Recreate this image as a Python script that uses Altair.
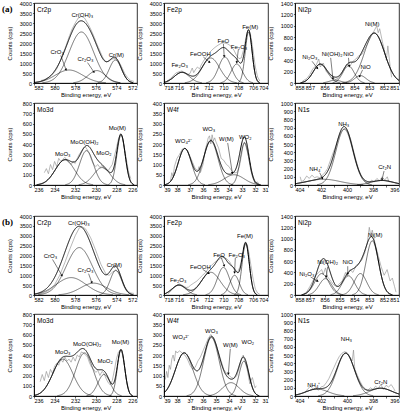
import math

import altair as alt
import pandas as pd

# ---------------- axis ticks ----------------
CR_X_TICKS = [582, 580, 578, 576, 574, 572]
FE_X_TICKS = [718, 716, 714, 712, 710, 708, 706, 704]
NI_X_TICKS = [858, 857, 856, 855, 854, 853, 852, 851]
MO_X_TICKS = [236, 234, 232, 230, 228, 226]
W_X_TICKS = [39, 38, 37, 36, 35, 34, 33, 32, 31]
N_X_TICKS = [404, 403, 402, 401, 400, 399, 398, 397, 396]

CR_Y_TICKS = [0, 500, 1000, 1500, 2000, 2500, 3000, 3500, 4000]
FE_Y_TICKS = [0, 500, 1000, 1500, 2000, 2500, 3000, 3500, 4000]
NI_Y_TICKS = [0, 200, 400, 600, 800, 1000, 1200, 1400]
MO_Y_TICKS = [0, 100, 200, 300, 400, 500, 600, 700, 800]
W_Y_TICKS = [0, 50, 100, 150, 200, 250, 300, 350, 400]
N_Y_TICKS = [0, 100, 200, 300, 400, 500, 600, 700, 800, 900, 1000]

# ---------------- (a) Cr 2p ----------------
A_CR_CENTER = [577.4, 578.6, 575.9, 574.1]
A_CR_HEIGHT = [2550, 650, 620, 1150]
A_CR_FWHM = [2.8, 3.1, 2.0, 1.4]
A_CR_RAW_X = [581.3, 581.0, 580.7, 580.4, 580.1, 579.8, 579.5, 579.2, 578.9, 578.6, 578.3, 578.0,
              577.7, 577.4, 577.1, 576.8, 576.5, 576.2, 575.9, 575.6, 575.3, 575.0, 574.7, 574.4,
              574.1, 573.8, 573.5, 573.2, 572.9, 572.6, 572.3]
A_CR_RAW_Y = [130, 160, 250, 330, 480, 700, 1050, 1450, 1850, 2300, 2700, 3000,
              3250, 3330, 3250, 3000, 2700, 2350, 1950, 1600, 1250, 1050, 1100, 1200,
              1230, 1100, 820, 480, 260, 120, 80]
A_CR_TEXT = ["Cr(OH)₃", "CrO₃", "Cr₂O₃", "Cr(M)"]
A_CR_TEXT_X = [577.3, 579.75, 577.0, 574.0]
A_CR_TEXT_Y = [3420, 1570, 1190, 1420]
A_CR_ARROW = [(579.4, 1380, 578.9, 680), (576.8, 1020, 576.2, 560)]

# ---------------- (a) Fe 2p ----------------
A_FE_CENTER = [715.6, 711.7, 709.8, 708.2, 706.6]
A_FE_HEIGHT = [530, 1250, 1300, 950, 2550]
A_FE_FWHM = [2.4, 2.8, 2.0, 1.8, 1.1]
A_FE_RAW_X = [717.6, 717.2, 716.8, 716.4, 716.0, 715.6, 715.2, 714.8, 714.5, 714.2, 714.0, 713.8,
              713.5, 713.2, 713.0, 712.6, 712.2, 711.8, 711.4, 711.0, 710.6, 710.2, 709.8, 709.4,
              709.0, 708.6, 708.2, 707.9, 707.6, 707.3, 707.0, 706.8, 706.6, 706.4, 706.2, 706.0,
              705.7, 705.4, 705.1]
A_FE_RAW_Y = [100, 200, 350, 500, 560, 600, 520, 420, 480, 750, 520, 650,
              800, 700, 900, 1150, 1350, 1550, 1700, 1820, 1920, 2000, 2000, 1950,
              1850, 1650, 1350, 1220, 1250, 1650, 2200, 2550, 2680, 2500, 2100, 1600,
              800, 300, 100]
A_FE_TEXT = ["Fe₂O₃", "FeOOH", "FeO", "Fe₂O₃", "Fe(M)"]
A_FE_TEXT_X = [715.9, 713.1, 710.0, 707.9, 706.4]
A_FE_TEXT_Y = [880, 1450, 2100, 1800, 2800]
A_FE_ARROW = [(712.7, 1300, 711.9, 1050), (710.0, 1950, 709.9, 1350), (708.0, 1650, 708.2, 1050)]

# ---------------- (a) Ni 2p ----------------
A_NI_CENTER = [856.3, 855.3, 854.4, 853.6, 852.65]
A_NI_HEIGHT = [330, 50, 300, 130, 870]
A_NI_FWHM = [1.1, 0.9, 0.9, 0.9, 1.6]
A_NI_RAW_X = [857.5, 857.2, 857.0, 856.8, 856.6, 856.4, 856.3, 856.1, 855.9, 855.7, 855.5, 855.3,
              855.1, 854.9, 854.7, 854.5, 854.3, 854.1, 853.9, 853.7, 853.5, 853.3, 853.1, 852.9,
              852.7, 852.5, 852.4, 852.3, 852.1, 852.0, 851.85, 851.75, 851.6, 851.5]
A_NI_RAW_Y = [30, 80, 150, 250, 300, 420, 280, 350, 200, 150, 120, 60,
              80, 150, 250, 330, 300, 380, 420, 480, 500, 600, 700, 820,
              900, 1000, 880, 950, 700, 600, 400, 650, 300, 100]
A_NI_TEXT = ["Ni₂O₃", "Ni(OH)₂", "NiO", "NiO", "Ni(M)"]
A_NI_TEXT_X = [857.0, 855.5, 854.4, 853.25, 852.8]
A_NI_TEXT_Y = [450, 510, 510, 280, 1040]
A_NI_ARROW = [(856.85, 380, 856.5, 260), (855.6, 440, 855.45, 80), (854.4, 440, 854.35, 300),
              (853.45, 230, 853.65, 120)]

# ---------------- (a) Mo 3d ----------------
A_MO_CENTER = [233.0, 230.9, 229.4, 227.55]
A_MO_HEIGHT = [245, 335, 170, 485]
A_MO_FWHM = [2.2, 1.6, 1.9, 0.95]
A_MO_RAW_X = [235.0, 234.8, 234.6, 234.4, 234.2, 234.0, 233.8, 233.6, 233.4, 233.2, 233.0, 232.8,
              232.6, 232.4, 232.2, 232.0, 231.8, 231.6, 231.4, 231.2, 231.0, 230.8, 230.6, 230.4,
              230.2, 230.0, 229.8, 229.6, 229.4, 229.2, 229.0, 228.8, 228.6, 228.4, 228.2, 228.0,
              227.8, 227.6, 227.4, 227.2, 227.0, 226.8, 226.6]
A_MO_RAW_Y = [120, 160, 110, 200, 150, 230, 180, 260, 230, 250, 270, 240,
              220, 200, 230, 210, 260, 300, 330, 360, 370, 340, 300, 240,
              200, 180, 200, 170, 190, 160, 150, 140, 170, 200, 280, 360,
              450, 500, 460, 350, 230, 120, 60]
A_MO_TEXT = ["MoO₃", "MoO(OH)₂", "MoO₂", "Mo(M)"]
A_MO_TEXT_X = [233.2, 231.1, 229.2, 227.9]
A_MO_TEXT_Y = [300, 415, 310, 555]
A_MO_ARROW = []

# ---------------- (a) W 4f ----------------
A_W_CENTER = [37.4, 35.4, 33.6, 32.8]
A_W_HEIGHT = [178, 215, 50, 205]
A_W_FWHM = [1.2, 1.3, 1.8, 0.8]
A_W_RAW_X = [38.5, 38.4, 38.3, 38.2, 38.0, 37.8, 37.6, 37.4, 37.2, 37.0, 36.8, 36.6, 36.4, 36.3,
             36.2, 36.0, 35.9, 35.8, 35.7, 35.6, 35.5, 35.4, 35.3, 35.2, 35.1, 35.0, 34.8, 34.6,
             34.4, 34.2, 34.0, 33.8, 33.6, 33.4, 33.2, 33.0, 32.9, 32.8, 32.7, 32.5, 32.3, 32.1,
             32.0, 31.8, 31.7]
A_W_RAW_Y = [20, 60, 40, 90, 130, 150, 175, 180, 170, 140, 110, 80, 70, 90,
             60, 100, 140, 180, 200, 230, 240, 200, 245, 215, 230, 210, 180, 130,
             120, 100, 90, 70, 60, 60, 90, 160, 200, 210, 190, 140, 70, 30,
             10, 15, 0]
A_W_TEXT = ["WO₄²⁻", "WO₃", "W(M)", "WO₂"]
A_W_TEXT_X = [37.5, 35.55, 34.2, 32.75]
A_W_TEXT_Y = [217, 272, 225, 235]
A_W_ARROW = [(34.1, 205, 33.75, 60)]

# ---------------- (a) N 1s ----------------
A_N_CENTER = [401.8, 400.2, 397.3]
A_N_HEIGHT = [70, 680, 55]
A_N_FWHM = [3.0, 1.55, 2.0]
A_N_RAW_X = [403.6, 403.5, 403.3, 403.1, 402.9, 402.7, 402.5, 402.3, 402.1, 401.9, 401.7, 401.5,
             401.3, 401.1, 400.9, 400.7, 400.5, 400.3, 400.1, 399.9, 399.7, 399.5, 399.3, 399.1,
             398.9, 398.7, 398.5, 398.3, 398.1, 397.9, 397.7, 397.5, 397.3, 397.1, 396.9, 396.8,
             396.7]
A_N_RAW_Y = [100, 40, 60, 110, 80, 120, 90, 100, 90, 120, 150, 200,
             290, 380, 460, 560, 640, 680, 690, 640, 550, 420, 300, 190,
             110, 60, 30, 20, 60, 40, 80, 50, 100, 60, 100, 50,
             30]
A_N_TEXT = ["NH₄⁺", "NH₃", "Cr₂N"]
A_N_TEXT_X = [402.4, 400.25, 397.1]
A_N_TEXT_Y = [190, 740, 215]
A_N_ARROW = [(402.1, 150, 401.9, 85), (397.15, 170, 397.3, 70)]

# ---------------- (b) Cr 2p ----------------
B_CR_CENTER = [577.6, 578.4, 576.2, 574.05]
B_CR_HEIGHT = [2400, 880, 600, 1250]
B_CR_FWHM = [3.0, 3.4, 3.0, 1.3]
B_CR_RAW_X = [581.5, 581.0, 580.5, 580.0, 579.5, 579.0, 578.5, 578.0, 577.6, 577.3, 577.0, 576.5,
              576.0, 575.5, 575.0, 574.7, 574.4, 574.1, 573.8, 573.5, 573.2, 572.9, 572.6, 572.3]
B_CR_RAW_Y = [50, 120, 250, 520, 1000, 1650, 2350, 3000, 3400, 3450, 3350, 2900,
              2250, 1550, 1050, 1000, 1150, 1250, 1150, 800, 420, 200, 100, 80]
B_CR_TEXT = ["Cr(OH)₃", "CrO₃", "Cr₂O₃", "Cr(M)"]
B_CR_TEXT_X = [577.65, 580.4, 577.0, 574.2]
B_CR_TEXT_Y = [3630, 1980, 1270, 1510]
B_CR_ARROW = [(580.2, 1800, 579.3, 1000), (576.7, 1080, 576.4, 650)]

# ---------------- (b) Fe 2p ----------------
B_FE_CENTER = [716.0, 711.7, 710.0, 708.5, 707.0]
B_FE_HEIGHT = [500, 1150, 1400, 1000, 2600]
B_FE_FWHM = [2.2, 3.0, 1.9, 1.5, 1.15]
B_FE_RAW_X = [717.5, 717.0, 716.5, 716.2, 715.9, 715.6, 715.3, 715.0, 714.7, 714.4, 714.0, 713.6,
              713.2, 712.8, 712.4, 712.0, 711.6, 711.2, 710.8, 710.4, 710.0, 709.6, 709.2, 708.8,
              708.4, 708.1, 707.8, 707.5, 707.2, 707.0, 706.8, 706.6, 706.3, 706.0, 705.7, 705.4,
              705.1]
B_FE_RAW_Y = [60, 220, 420, 520, 560, 500, 430, 380, 400, 500, 600, 700,
              850, 1000, 1150, 1350, 1500, 1650, 1750, 1850, 1900, 1850, 1700, 1450,
              1200, 1150, 1400, 1900, 2400, 2650, 2550, 2200, 1500, 800, 300, 100,
              30]
B_FE_TEXT = ["Fe₂O₃", "FeOOH", "FeO", "Fe₂O₃", "Fe(M)"]
B_FE_TEXT_X = [716.1, 713.1, 710.6, 708.2, 707.1]
B_FE_TEXT_Y = [750, 1440, 2030, 2030, 2970]
B_FE_ARROW = [(712.8, 1300, 712.0, 1100), (710.3, 1900, 709.9, 1500), (708.4, 1880, 708.5, 1150)]

# ---------------- (b) Ni 2p ----------------
B_NI_CENTER = [856.2, 855.95, 854.4, 853.6, 852.8]
B_NI_HEIGHT = [380, 290, 340, 380, 960]
B_NI_FWHM = [1.1, 1.0, 1.0, 1.0, 1.0]
B_NI_RAW_X = [857.4, 857.2, 857.0, 856.8, 856.6, 856.4, 856.2, 856.1, 855.95, 855.8, 855.6, 855.4,
              855.2, 855.0, 854.8, 854.6, 854.5, 854.3, 854.1, 853.9, 853.7, 853.5, 853.3, 853.15,
              853.0, 852.9, 852.8, 852.6, 852.4, 852.2, 852.0, 851.8, 851.6, 851.45, 851.3, 851.2]
B_NI_RAW_Y = [20, 60, 150, 250, 350, 400, 450, 360, 480, 320, 250, 180,
              150, 200, 260, 400, 330, 450, 400, 520, 560, 620, 750, 900,
              1200, 1050, 1150, 900, 700, 500, 350, 450, 250, 300, 150, 50]
B_NI_TEXT = ["Ni₂O₃", "Ni(OH)₂", "NiO", "Ni(M)"]
B_NI_TEXT_X = [857.2, 855.8, 854.45, 852.6]
B_NI_TEXT_Y = [370, 580, 590, 1060]
B_NI_ARROW = [(856.95, 320, 856.5, 250), (855.8, 500, 855.9, 330), (854.45, 510, 854.45, 380)]

# ---------------- (b) Mo 3d ----------------
B_MO_CENTER = [233.2, 231.1, 229.2, 227.55]
B_MO_HEIGHT = [360, 420, 210, 450]
B_MO_FWHM = [2.3, 2.0, 1.4, 0.85]
B_MO_RAW_X = [235.4, 235.2, 235.0, 234.8, 234.6, 234.4, 234.2, 234.0, 233.8, 233.6, 233.4, 233.2,
              233.0, 232.8, 232.6, 232.4, 232.2, 232.0, 231.8, 231.6, 231.4, 231.2, 231.0, 230.8,
              230.6, 230.4, 230.2, 230.0, 229.8, 229.6, 229.4, 229.2, 229.0, 228.8, 228.6, 228.4,
              228.2, 228.0, 227.8, 227.6, 227.4, 227.2, 227.0, 226.8, 226.7]
B_MO_RAW_Y = [140, 210, 150, 240, 180, 260, 220, 290, 320, 300, 360, 330,
              380, 340, 360, 330, 380, 340, 400, 380, 430, 420, 400, 380,
              320, 280, 260, 230, 250, 200, 240, 220, 170, 130, 110, 150,
              250, 360, 430, 450, 400, 280, 150, 60, 20]
B_MO_TEXT = ["MoO₃", "MoO(OH)₂", "MoO₂", "Mo(M)"]
B_MO_TEXT_X = [233.2, 230.85, 229.1, 227.6]
B_MO_TEXT_Y = [425, 505, 345, 525]
B_MO_ARROW = []

# ---------------- (b) W 4f ----------------
B_W_CENTER = [37.45, 35.35, 33.85, 32.85]
B_W_HEIGHT = [210, 285, 65, 170]
B_W_FWHM = [1.6, 1.4, 1.5, 0.9]
B_W_RAW_X = [38.9, 38.8, 38.7, 38.6, 38.5, 38.4, 38.3, 38.2, 38.1, 38.0, 37.8, 37.6, 37.4, 37.2,
             37.0, 36.8, 36.6, 36.4, 36.2, 36.0, 35.8, 35.6, 35.4, 35.2, 35.0, 34.8, 34.6, 34.4,
             34.2, 34.0, 33.8, 33.6, 33.4, 33.2, 33.0, 32.9, 32.8, 32.6, 32.4, 32.2, 32.0, 31.9]
B_W_RAW_Y = [80, 120, 90, 150, 130, 180, 200, 170, 220, 210, 220, 210, 200, 180,
             150, 130, 140, 170, 190, 220, 250, 280, 300, 280, 250, 210, 170, 130,
             110, 100, 90, 85, 100, 140, 190, 200, 175, 130, 60, 90, 40, 50]
B_W_TEXT = ["WO₄²⁻", "WO₃", "W(M)", "WO₂"]
B_W_TEXT_X = [37.7, 35.35, 33.9, 32.55]
B_W_TEXT_Y = [287, 317, 250, 262]
B_W_ARROW = [(33.9, 230, 34.05, 110)]

# ---------------- (b) N 1s ----------------
B_N_CENTER = [402.3, 400.1, 397.4]
B_N_HEIGHT = [85, 520, 95]
B_N_FWHM = [2.0, 1.6, 2.0]
B_N_RAW_X = [403.2, 403.0, 402.8, 402.6, 402.4, 402.2, 402.0, 401.8, 401.6, 401.4, 401.2, 401.0,
             400.8, 400.6, 400.4, 400.2, 400.0, 399.8, 399.6, 399.5, 399.4, 399.2, 399.0, 398.8,
             398.6, 398.4, 398.2, 398.0, 397.8, 397.6, 397.4, 397.2, 397.0, 396.8, 396.6, 396.4,
             396.3]
B_N_RAW_Y = [50, 90, 120, 80, 100, 70, 110, 120, 160, 210, 280, 350,
             420, 480, 520, 540, 530, 480, 430, 560, 330, 250, 180, 120,
             90, 70, 100, 80, 120, 90, 140, 80, 130, 110, 140, 90,
             60]
B_N_TEXT = ["NH₄⁺", "NH₃", "Cr₂N"]
B_N_TEXT_X = [402.55, 400.05, 397.4]
B_N_TEXT_Y = [135, 690, 170]
B_N_ARROW = []

FONT = "Liberation Sans"


def panel(name, xlo, xhi, xticks, ymax, yticks, center, height, fwhm,
          raw_x, raw_y, text, text_x, text_y, arrows, width, height_px, tag=None):
    x_enc = alt.X("x:Q", scale=alt.Scale(domain=[xlo, xhi], reverse=True, nice=False, zero=False),
                  axis=alt.Axis(values=xticks, title="Binding energy, eV", format="d"))
    y_enc = alt.Y("y:Q", scale=alt.Scale(domain=[0, ymax], nice=False),
                  axis=alt.Axis(values=yticks, title="Counts (cps)", format="d"))

    # fitted components: one Gaussian per (center, height, FWHM) row
    peaks = pd.DataFrame({"c": center, "h": height, "w": fwhm, "id": list(range(len(center)))})
    step = (xhi - xlo) / 500.0
    thr = ymax * 0.004
    base = alt.Chart(peaks).transform_calculate(
        x=f"sequence({xlo}, {xhi + step / 2}, {step})"
    ).transform_flatten(["x"]).transform_calculate(
        y="datum.h * exp(-4 * LN2 * pow((datum.x - datum.c) / datum.w, 2))"
    )
    comps = base.transform_filter(f"datum.y > {thr}").mark_line(
        color="black", strokeWidth=0.55).encode(x=x_enc, y=y_enc, detail="id:N")
    # envelope = sum of the components
    env = base.transform_aggregate(y="sum(y)", groupby=["x"]).transform_filter(
        f"datum.y > {thr}").mark_line(color="black", strokeWidth=1.0).encode(x=x_enc, y=y_enc)

    raw = alt.Chart(pd.DataFrame({"x": raw_x, "y": raw_y})).mark_line(
        color="#8a8a8a", strokeWidth=0.6).encode(x=x_enc, y=y_enc)

    labels = alt.Chart(pd.DataFrame({"x": text_x, "y": text_y, "t": text})).mark_text(
        font=FONT, fontSize=6, color="black").encode(x=x_enc, y=y_enc, text="t:N")

    name_lbl = alt.Chart(pd.DataFrame({"t": [name]})).mark_text(
        font=FONT, fontSize=6.5, align="left", baseline="middle", color="black"
    ).encode(x=alt.value(3), y=alt.value(7), text="t:N")

    layers = [raw, comps, env, labels, name_lbl]
    if arrows:
        adf = pd.DataFrame(arrows, columns=["x", "y", "x2", "y2"])
        layers.append(alt.Chart(adf).mark_rule(color="black", strokeWidth=0.5).encode(
            x=x_enc, y=y_enc, x2="x2:Q", y2="y2:Q"))
        # arrowheads at the pointed end, rotated along the shaft in screen space
        kx = width / (xhi - xlo)
        ky = height_px / ymax
        heads = []
        for x0, y0, x1, y1 in arrows:
            dx = -(x1 - x0) * kx
            dy = -(y1 - y0) * ky
            heads.append({"x": x1, "y": y1,
                          "a": math.degrees(math.atan2(dx, -dy)) % 360})
        layers.append(alt.Chart(pd.DataFrame(heads)).mark_point(
            shape="triangle", filled=True, size=7, color="black", opacity=1
        ).encode(x=x_enc, y=y_enc, angle=alt.Angle("a:Q", scale=None)))
    if tag:
        layers.append(alt.Chart(pd.DataFrame({"t": [tag]})).mark_text(
            font="Liberation Serif", fontSize=9, fontWeight="bold", align="left",
            baseline="middle", color="black"
        ).encode(x=alt.value(-32), y=alt.value(6), text="t:N"))
    return alt.layer(*layers).properties(width=width, height=height_px)


W1, W2, W3 = 103, 104, 104


def group(g, tag, h_top, h_bot):
    return [
        panel("Cr2p", 572, 582, CR_X_TICKS, 4000, CR_Y_TICKS, *g[0], W1, h_top, tag),
        panel("Fe2p", 704, 718, FE_X_TICKS, 4000, FE_Y_TICKS, *g[1], W2, h_top),
        panel("Ni2p", 851, 858, NI_X_TICKS, 1400, NI_Y_TICKS, *g[2], W3, h_top),
        panel("Mo3d", 226, 236, MO_X_TICKS, 800, MO_Y_TICKS, *g[3], W1, h_bot),
        panel("W4f", 31, 39, W_X_TICKS, 400, W_Y_TICKS, *g[4], W2, h_bot),
        panel("N1s", 396, 404, N_X_TICKS, 1000, N_Y_TICKS, *g[5], W3, h_bot),
    ]


A = [
    (A_CR_CENTER, A_CR_HEIGHT, A_CR_FWHM, A_CR_RAW_X, A_CR_RAW_Y, A_CR_TEXT, A_CR_TEXT_X, A_CR_TEXT_Y, A_CR_ARROW),
    (A_FE_CENTER, A_FE_HEIGHT, A_FE_FWHM, A_FE_RAW_X, A_FE_RAW_Y, A_FE_TEXT, A_FE_TEXT_X, A_FE_TEXT_Y, A_FE_ARROW),
    (A_NI_CENTER, A_NI_HEIGHT, A_NI_FWHM, A_NI_RAW_X, A_NI_RAW_Y, A_NI_TEXT, A_NI_TEXT_X, A_NI_TEXT_Y, A_NI_ARROW),
    (A_MO_CENTER, A_MO_HEIGHT, A_MO_FWHM, A_MO_RAW_X, A_MO_RAW_Y, A_MO_TEXT, A_MO_TEXT_X, A_MO_TEXT_Y, A_MO_ARROW),
    (A_W_CENTER, A_W_HEIGHT, A_W_FWHM, A_W_RAW_X, A_W_RAW_Y, A_W_TEXT, A_W_TEXT_X, A_W_TEXT_Y, A_W_ARROW),
    (A_N_CENTER, A_N_HEIGHT, A_N_FWHM, A_N_RAW_X, A_N_RAW_Y, A_N_TEXT, A_N_TEXT_X, A_N_TEXT_Y, A_N_ARROW),
]
B = [
    (B_CR_CENTER, B_CR_HEIGHT, B_CR_FWHM, B_CR_RAW_X, B_CR_RAW_Y, B_CR_TEXT, B_CR_TEXT_X, B_CR_TEXT_Y, B_CR_ARROW),
    (B_FE_CENTER, B_FE_HEIGHT, B_FE_FWHM, B_FE_RAW_X, B_FE_RAW_Y, B_FE_TEXT, B_FE_TEXT_X, B_FE_TEXT_Y, B_FE_ARROW),
    (B_NI_CENTER, B_NI_HEIGHT, B_NI_FWHM, B_NI_RAW_X, B_NI_RAW_Y, B_NI_TEXT, B_NI_TEXT_X, B_NI_TEXT_Y, B_NI_ARROW),
    (B_MO_CENTER, B_MO_HEIGHT, B_MO_FWHM, B_MO_RAW_X, B_MO_RAW_Y, B_MO_TEXT, B_MO_TEXT_X, B_MO_TEXT_Y, B_MO_ARROW),
    (B_W_CENTER, B_W_HEIGHT, B_W_FWHM, B_W_RAW_X, B_W_RAW_Y, B_W_TEXT, B_W_TEXT_X, B_W_TEXT_Y, B_W_ARROW),
    (B_N_CENTER, B_N_HEIGHT, B_N_FWHM, B_N_RAW_X, B_N_RAW_Y, B_N_TEXT, B_N_TEXT_X, B_N_TEXT_Y, B_N_ARROW),
]

grid_a = alt.concat(*group(A, "(a)", 80, 82), columns=3,
                    spacing={"row": 20, "column": 27}, bounds="flush", align="each")
grid_b = alt.concat(*group(B, "(b)", 79, 82), columns=3,
                    spacing={"row": 19, "column": 27}, bounds="flush", align="each")

chart = alt.vconcat(grid_a, grid_b, spacing=13, bounds="full").properties(
    padding={"left": 1, "top": 0, "right": 0, "bottom": 0}
).configure(font=FONT).configure_view(
    stroke="black", strokeWidth=0.8
).configure_axis(
    grid=False, domainColor="black", domainWidth=0.8, tickColor="black", tickWidth=0.6,
    labelFont=FONT, titleFont=FONT, labelFontSize=5.5, titleFontSize=6,
    labelColor="black", titleColor="black", titleFontWeight="normal"
).configure_axisX(
    tickSize=2, labelPadding=0, titlePadding=1
).configure_axisY(
    tickSize=1.5, labelPadding=1, titlePadding=7, minExtent=15, maxExtent=15
)

chart.save("out.html", embed_options={"renderer": "svg", "actions": False})
